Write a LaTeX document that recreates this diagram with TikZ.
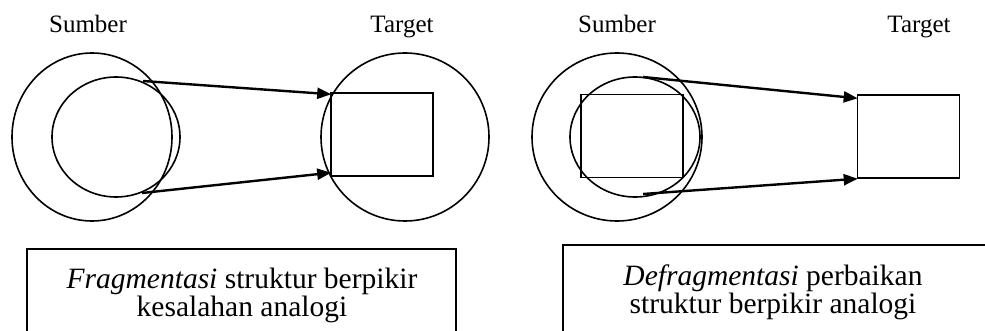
\documentclass[tikz,border=0pt]{standalone}
\usepackage{fontspec}
\setmainfont{Liberation Serif}
\usetikzlibrary{arrows.meta}

\tikzset{
  shp/.style={line width=1.6pt},
  kotak/.style={draw,line width=1.6pt,minimum width=102pt,minimum height=83pt,inner sep=0pt},
  panah/.style={line width=2.4pt,-{Triangle[length=14pt,width=11pt]},shorten >=-1pt},
  judul/.style={font=\fontsize{25}{28}\selectfont,anchor=base},
  ket/.style={font=\fontsize{29.5}{26}\selectfont,align=center,anchor=base}
}

\begin{document}
\begin{tikzpicture}[x=1pt,y=-1pt]
            \useasboundingbox (0,0) rectangle (985,331);
            % kiri: fragmentasi
            \node[judul] (s1) at (88,33) {Sumber};
            \node[judul] (t1) at (402,33) {Target};
            \draw[shp] (92,137) ellipse (80 and 84);
            \draw[shp] (116,137) ellipse (64 and 60);
            \draw[shp] (405,137) ellipse (84 and 84);
            \node[kotak] (k1) at (382,134.5) {};
            \coordinate (a1) at (143,81);
            \coordinate (b1) at (142,193);
            \draw[panah] (a1) -- ([yshift=-2pt]k1.north west);
            \draw[panah] (b1) -- ([yshift=4pt]k1.south west);
            \draw[line width=1.8pt] (27,340)--(27,249)--(456,249)--(456,340);
            \node[ket] (f1) at (242,316) {\textit{Fragmentasi} struktur berpikir\\kesalahan analogi};
            % kanan: defragmentasi
            \node[judul] (s2) at (617,33) {Sumber};
            \node[judul] (t2) at (919,33) {Target};
            \draw[shp] (617,137) ellipse (85 and 84);
            \draw[shp] (635,137) ellipse (65 and 60);
            \node[kotak] (k2) at (632,136) {};
            \node[kotak] (k3) at (908.5,136.5) {};
            \coordinate (a2) at (643,77);
            \coordinate (b2) at (643,194);
            \draw[panah] (a2) -- ([yshift=-4pt]k3.north west);
            \draw[panah] (b2) -- (k3.south west);
            \draw[line width=1.8pt] (563,340)--(563,245)--(990,245);
            \node[ket] (f2) at (773,313) {\textit{Defragmentasi} perbaikan\\struktur berpikir analogi};
        \end{tikzpicture}
\end{document}
